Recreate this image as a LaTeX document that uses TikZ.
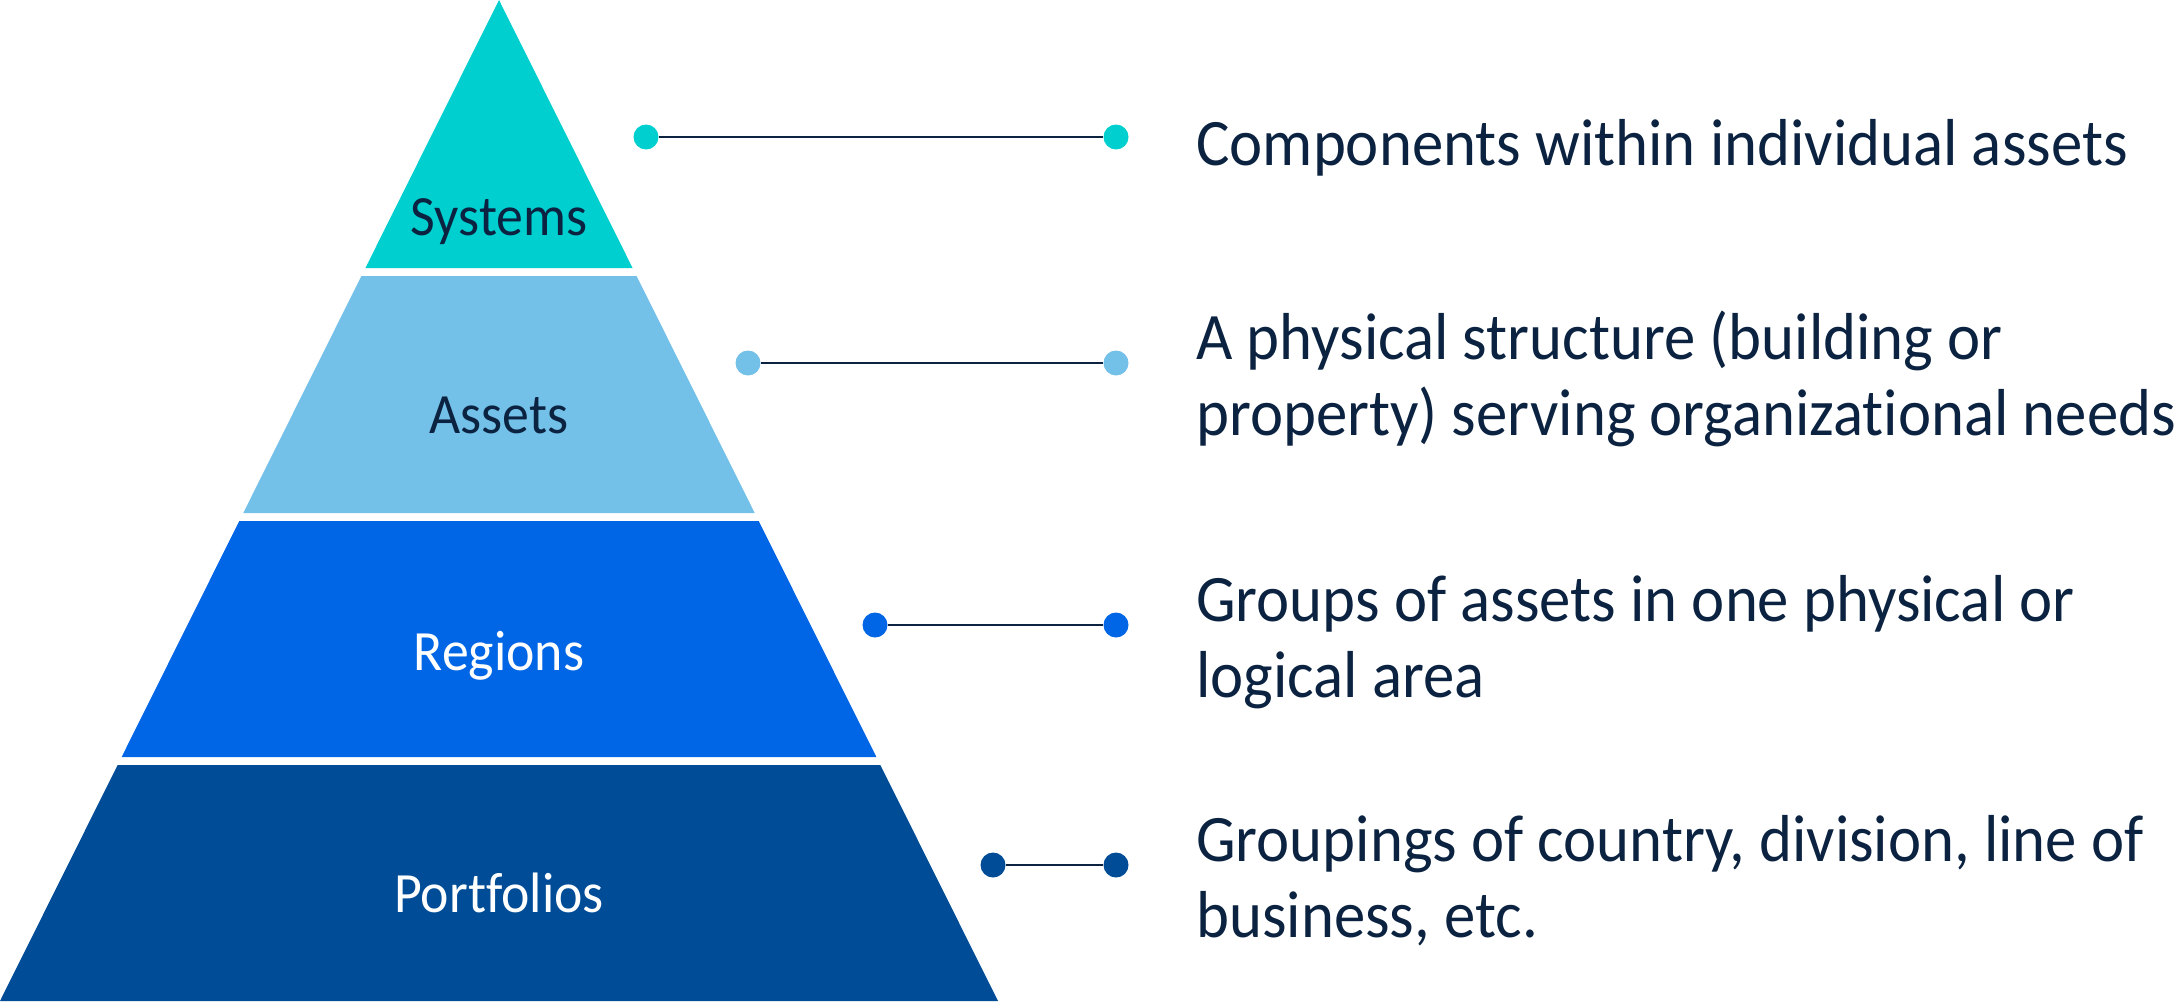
\documentclass[tikz,border=0pt]{standalone}
\usepackage{fontspec}
\setmainfont{Carlito}[FakeStretch=0.945, Ligatures=NoCommon]
\definecolor{sysc}{HTML}{00CFCF}
\definecolor{assc}{HTML}{73C0E8}
\definecolor{regc}{HTML}{0066E6}
\definecolor{porc}{HTML}{004C97}
\definecolor{inkc}{HTML}{0B2341}
\tikzset{
    tier/.style = {font=\fontsize{32.4}{38}\selectfont, anchor=base, inner sep=0pt},
    pin/.style  = {circle, inner sep=0pt, minimum size=0.5cm, fill=#1},
    link/.style = {draw=inkc, line width=1.2pt},
    note/.style = {font=\fontsize{37.8}{42.7}\selectfont, text=inkc, anchor=base west, align=left, inner sep=0pt}
}
\begin{document}
\begin{tikzpicture}[
        x = 0.02cm,
        y = -0.02cm
    ]
        \useasboundingbox (0,0) rectangle (2177,1001);
        \foreach \t/\b/\c in {0/268/sysc, 276/513/assc, 521/757/regc, 765/1001/porc}
            \fill[\c] ({499-0.4985*\t},\t) -- ({499+0.4985*\t},\t) -- ({499+0.4985*\b},\b) -- ({499-0.4985*\b},\b) -- cycle;
        \node[tier, text=inkc]  (systems)    at (499,235) {Systems};
        \node[tier, text=inkc]  (assets)     at (499,433) {Assets};
        \node[tier, text=white] (regions)    at (499,670) {Regions};
        \node[tier, text=white] (portfolios) at (499,912) {Portfolios};

        \node[pin=sysc] (sysL) at ( 646,137) {};
        \node[pin=sysc] (sysR) at (1116,137) {};
        \node[pin=assc] (assL) at ( 748,363) {};
        \node[pin=assc] (assR) at (1116,363) {};
        \node[pin=regc] (regL) at ( 875,625) {};
        \node[pin=regc] (regR) at (1116,625) {};
        \node[pin=porc] (porL) at ( 993,865) {};
        \node[pin=porc] (porR) at (1116,865) {};
        \draw[link] (sysL) -- (sysR);
        \draw[link] (assL) -- (assR);
        \draw[link] (regL) -- (regR);
        \draw[link] (porL) -- (porR);

        \node[note] (sysN) at (1196,165) {Components within individual assets};
        \node[note] (assN) at (1196,435) {A physical structure (building or\\property) serving organizational needs};
        \node[note] (regN) at (1196,697) {Groups of assets in one physical or\\logical area};
        \node[note] (porN) at (1196,937) {Groupings of country, division, line of\\business, etc.};
    \end{tikzpicture}
\end{document}
